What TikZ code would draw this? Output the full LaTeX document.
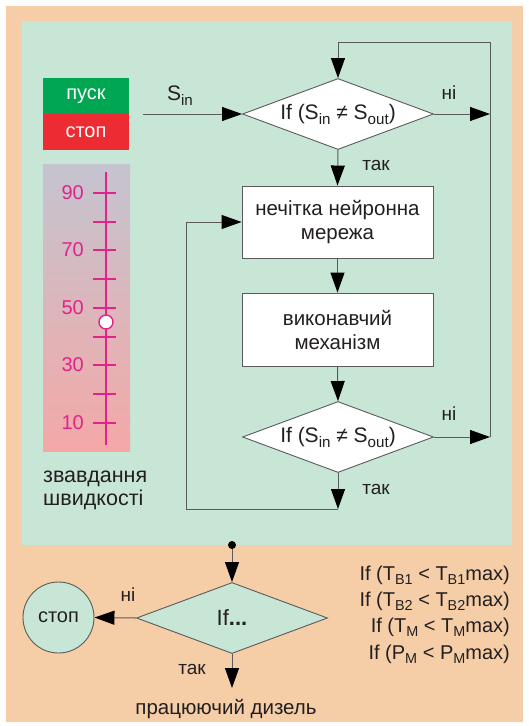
\documentclass[tikz,border=0pt]{standalone}
\usepackage{fontspec}
\setmainfont{Liberation Sans}
\usepackage{graphicx}
\usetikzlibrary{shapes.geometric,arrows.meta}
\definecolor{peach}{RGB}{245,206,168}
\definecolor{panel}{RGB}{200,230,214}
\definecolor{pgreen}{RGB}{0,166,81}
\definecolor{pred}{RGB}{237,43,51}
\definecolor{mag}{RGB}{226,35,140}
\definecolor{sctop}{RGB}{196,196,208}
\definecolor{scbot}{RGB}{244,168,166}
\definecolor{ink}{RGB}{35,31,32}
\definecolor{edge}{RGB}{90,90,90}
\newcommand{\lsub}[1]{\raisebox{-0.45ex}{\scalebox{0.72}{#1}}}
\newcommand{\fs}[1]{\fontsize{#1}{#1}\selectfont}
\tikzset{
  box/.style={draw=edge, line width=0.9pt, fill=white, minimum width=191pt, minimum height=72pt, inner sep=0pt, align=center, font=\fontsize{20.5}{24}\selectfont, text=ink},
  dia/.style={diamond, draw=edge, line width=0.9pt, fill=white, minimum width=191pt, minimum height=71pt, inner sep=0pt, font=\fs{21}, text=ink},
  conn/.style={draw=edge, line width=1pt},
  arr/.style={conn, -{Triangle[length=20pt,width=14pt,color=black]}},
  lbl/.style={font=\fs{19}, text=ink, inner sep=0pt},
  btn/.style={minimum width=86pt, minimum height=36pt, inner sep=0pt, text=white, font=\fs{20}},
  num/.style={anchor=east, inner sep=0pt, text=mag, font=\fs{20}},
  scaletick/.style={draw=mag, line width=1.4pt},
  cond/.style={anchor=base east, inner sep=0pt, text=ink, font=\fs{20}},
}
\begin{document}
\begin{tikzpicture}[x=1pt,y=-1pt]
\useasboundingbox (0,0) rectangle (529,726);
\fill[white] (0,0) rectangle (529,726);
\fill[peach] (6,6) rectangle (523,722);
\fill[panel] (22,21) rectangle (512,545);
% buttons
\node[btn, fill=pgreen] (pusk) at (86,96) {пуск};
\node[btn, fill=pred] (stop1) at (86,132) {стоп};
% scale
\node[minimum width=87pt, minimum height=287pt, inner sep=0pt, top color=sctop, bottom color=scbot, draw=none] (scale) at (86.5,307.5) {};
\draw[scaletick] (106,172) -- (106,445);
\foreach \y in {193,222,250,279,308,337,365,394,423} {
  \draw[scaletick] (93,\y) -- (116,\y);
}
\foreach \y/\v in {193/90,250/70,308/50,365/30,423/10} {
  \node[num] (n\v) at (84,\y) {\v};
}
\node[circle, draw=mag, line width=1.4pt, fill=white, minimum size=14pt, inner sep=0pt] (knob) at (106,322) {};
\node[anchor=base west, inner sep=0pt, text=ink, font=\fs{21.5}] (zv) at (43,482) {звавдання};
\node[anchor=base west, inner sep=0pt, text=ink, font=\fs{21.5}] (shv) at (43,505) {швидкості};
% flowchart
\node[dia] (d1) at (338,114) {\makebox[0pt]{If (S\lsub{in} ≠ S\lsub{out})}};
\node[box] (b1) at (337.5,222) {нечітка нейронна\\мережа};
\node[box, minimum height=73pt] (b2) at (337.5,329.5) {виконавчий\\механізм};
\node[dia] (d2) at (338,437) {\makebox[0pt]{If (S\lsub{in} ≠ S\lsub{out})}};
\coordinate (tl) at (338,42);
\coordinate (tr) at (490,42);
\coordinate (br) at (490,437);
\coordinate (sin) at (143,114);
\coordinate (c) at (338,509);
\coordinate (bl) at (186,509);
\coordinate (ul) at (186,222);
\draw[conn] (br) -- (tr) -- (tl);
\draw[arr] (tl) -- (d1.north);
\draw[arr] (sin) -- (d1.west);
\draw[arr] (d1.east) -- (d1.east -| tr);
\draw[arr] (d1.south) -- (b1.north);
\draw[arr] (b1.south) -- (b2.north);
\draw[arr] (b2.south) -- (d2.north);
\draw[arr] (d2.east) -- (br);
\draw[arr] (d2.south) -- (c);
\draw[conn] (c) -- (bl) -- (ul);
\draw[arr] (ul) -- (b1.west);
\node[lbl, font=\fs{21}] (sinl) at (180,96) {S\lsub{in}};
\node[lbl] (n1) at (449,93) {ні};
\node[lbl] (t1) at (376,165) {так};
\node[lbl] (n2) at (449,414) {ні};
\node[lbl] (t2) at (376,489) {так};
% bottom part
\node[circle, fill=black, minimum size=8pt, inner sep=0pt] (dot) at (232,545) {};
\node[dia, fill=panel, font=\fs{22}] (d3) at (232,618) {\makebox[0pt]{If\textbf{...}}};
\node[circle, draw=edge, line width=0.9pt, fill=panel, minimum size=71pt, inner sep=0pt, text=ink, font=\fs{20}] (stop2) at (58.5,617.5) {стоп};
\coordinate (out) at (232,688);
\draw[arr] (dot) -- (d3.north);
\draw[arr] (d3.west) -- (stop2.east);
\draw[arr] (d3.south) -- (out);
\node[lbl] (n3) at (128,595) {ні};
\node[lbl] (t3) at (192,669) {так};
\node[lbl, font=\fs{20.5}] (work) at (226,709) {працюючий дизель};
\node[cond] (c1) at (510,580) {If (T\lsub{B1} < T\lsub{B1}max)};
\node[cond] (c2) at (510,606) {If (T\lsub{B2} < T\lsub{B2}max)};
\node[cond] (c3) at (510,632) {If (T\lsub{M} < T\lsub{M}max)};
\node[cond] (c4) at (510,659) {If (P\lsub{M} < P\lsub{M}max)};
\end{tikzpicture}
\end{document}
